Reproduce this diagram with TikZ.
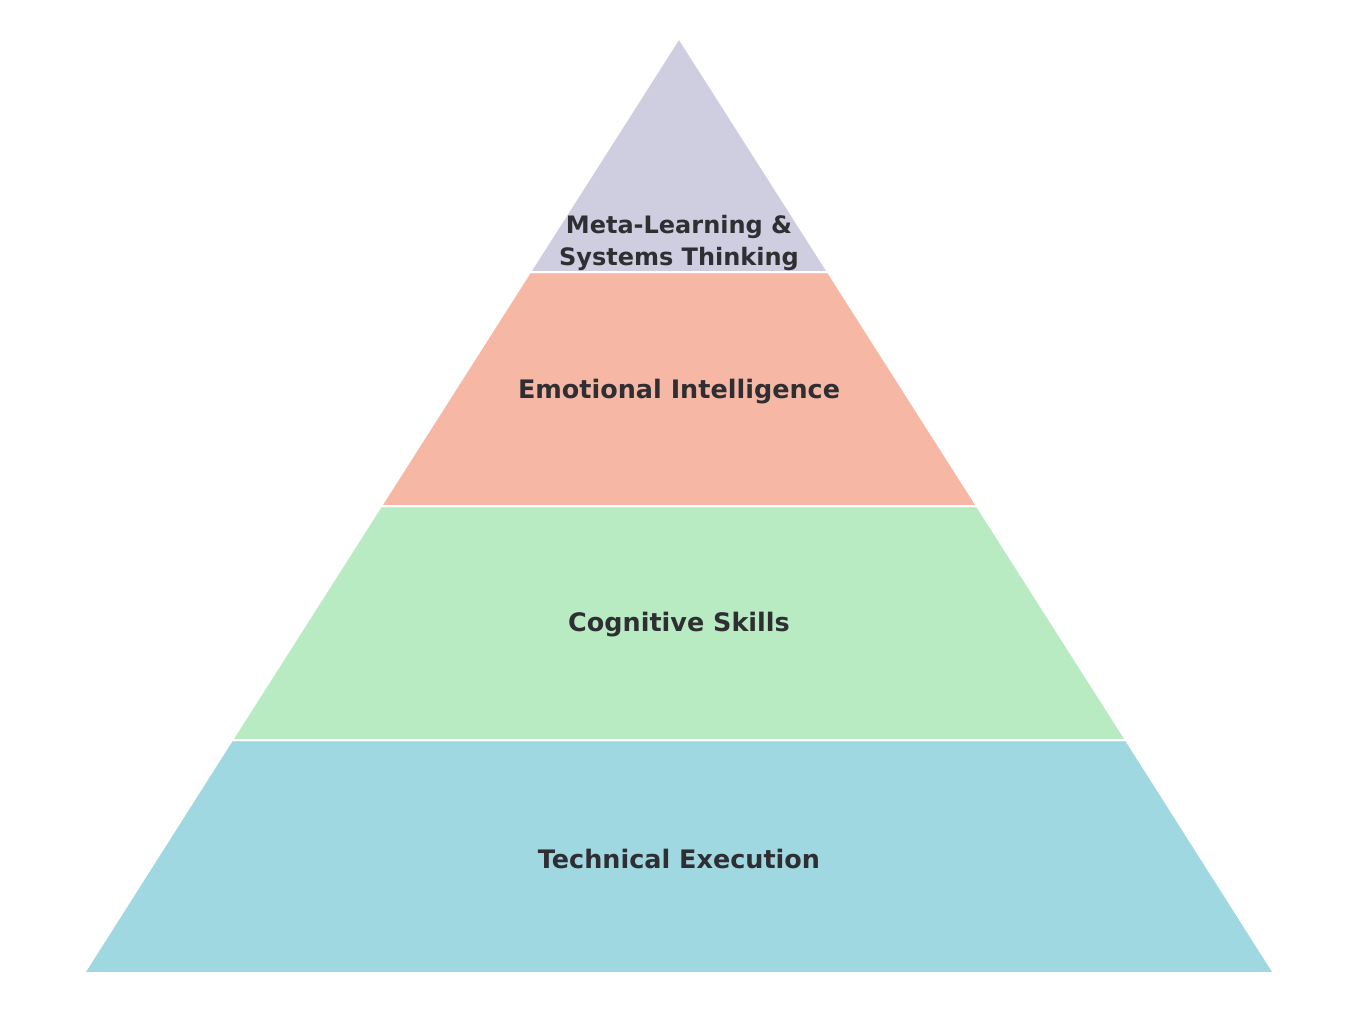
\documentclass[tikz,border=0pt]{standalone}
\usepackage{fontspec}
\setmainfont{DejaVu Sans}
\usepackage{tikz}
\usetikzlibrary{positioning}

\definecolor{metacol}{HTML}{CFCDE0}
\definecolor{emocol}{HTML}{F6B8A5}
\definecolor{cogcol}{HTML}{B8EBC1}
\definecolor{techcol}{HTML}{A0D8E1}
\definecolor{labelcol}{HTML}{2F2F33}

\tikzset{
  band/.style={draw=white,line width=1.5pt,line join=round},
  bandlabel/.style={font=\bfseries\fontsize{19.1}{24}\selectfont,text=labelcol,align=center,inner sep=0pt},
  toplabel/.style={bandlabel,font=\bfseries\fontsize{18}{24}\selectfont}
}

\begin{document}
\begin{tikzpicture}[x=0.75pt,y=-0.75pt]
 \useasboundingbox (0,0) rectangle (1358,1014);

 % layers, bottom to top
 \fill[techcol,band] (84,973)--(1274,973)--(1126,740)--(232,740)--cycle;
 \fill[cogcol,band] (232,740)--(1126,740)--(977,506)--(381,506)--cycle;
 \fill[emocol,band] (381,506)--(977,506)--(828,272)--(530,272)--cycle;
 \fill[metacol,band] (530,272)--(828,272)--(679,38)--cycle;

 \node[toplabel] (meta) at (679,243) {Meta-Learning \&\\Systems Thinking};
 \node[bandlabel] (emo) at (679,392) {Emotional Intelligence};
 \node[bandlabel] (cog) at (679,625) {Cognitive Skills};
 \node[bandlabel] (tech) at (679,859) {Technical Execution};
\end{tikzpicture}
\end{document}
